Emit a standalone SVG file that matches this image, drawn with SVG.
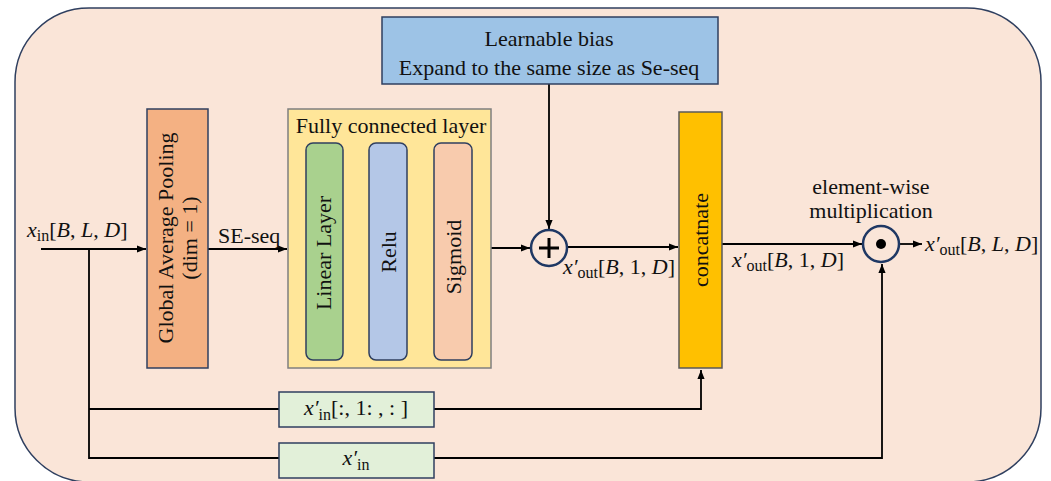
<svg xmlns="http://www.w3.org/2000/svg" width="1051" height="481" viewBox="0 0 1051 481">
<defs>
<marker id="ah" viewBox="0 0 10 10" refX="10" refY="5" markerWidth="9" markerHeight="9" markerUnits="userSpaceOnUse" orient="auto">
<path d="M0,1 L10,5 L0,9 z" fill="#000"/>
</marker>
<style>
text{font-family:"Liberation Serif","DejaVu Serif",serif;fill:#111;}
.t{font-size:22px;}
.m{font-size:22px;}
.i{font-style:italic;}
.s{font-size:16px;}
.line{fill:none;stroke:#000;stroke-width:1.8;}
.arr{fill:none;stroke:#000;stroke-width:1.8;marker-end:url(#ah);}
.nv{stroke:#2F3F5F;stroke-width:1.5;}
</style>
</defs>
<rect x="15" y="8" width="1026" height="474" rx="74" fill="#FAE5D8" stroke="#2F3F5F" stroke-width="1.5"/>

<g id="connectors">
<path class="arr" d="M41,249 H146"/>
<path class="arr" d="M208,249 H287"/>
<path class="arr" d="M343,249 H368"/>
<path class="arr" d="M407,249 H433"/>
<path class="arr" d="M491,248 H530"/>
<path class="arr" d="M549,84 V229"/>
<path class="arr" d="M567,247 H678"/>
<path class="arr" d="M722,244 H862"/>
<path class="arr" d="M899,244 H922"/>
<path class="line" d="M89,249 V458 H279"/>
<path class="line" d="M89,409 H279"/>
<path class="arr" d="M434,409 H701 V370"/>
<path class="arr" d="M434,458 H882 V264"/>
</g>

<g id="bias">
<rect x="382" y="17" width="336" height="67" fill="#9DC3E6" class="nv"/>
<text class="t" x="549" y="46" text-anchor="middle">Learnable bias</text>
<text class="t" x="549" y="75" text-anchor="middle">Expand to the same size as Se-seq</text>
</g>

<g id="gap">
<rect x="147" y="109" width="61" height="259" fill="#F4B183" class="nv"/>
<text class="t" transform="translate(173,238) rotate(-90)" text-anchor="middle">Global Average Pooling</text>
<text class="t" transform="translate(197,238) rotate(-90)" text-anchor="middle">(dim = 1)</text>
</g>

<g id="fc">
<rect x="288" y="109" width="203" height="259" fill="#FFE699" stroke="#7F7F7F" stroke-width="1.5"/>
<text class="t" x="391" y="133" text-anchor="middle">Fully connected layer</text>
</g>
<g id="linear">
<rect x="306" y="143" width="37" height="217" rx="7" fill="#A9D18E" class="nv"/>
<text class="t" transform="translate(331,253) rotate(-90)" text-anchor="middle">Linear Layer</text>
</g>
<g id="relu">
<rect x="369" y="143" width="38" height="217" rx="7" fill="#B4C7E7" class="nv"/>
<text class="t" transform="translate(396,252) rotate(-90)" text-anchor="middle">Relu</text>
</g>
<g id="sigmoid">
<rect x="434" y="143" width="38" height="217" rx="7" fill="#F8CBAD" class="nv"/>
<text class="t" transform="translate(461,257) rotate(-90)" text-anchor="middle">Sigmoid</text>
</g>

<g id="add">
<circle cx="549" cy="248" r="18" fill="#FAE5D8" stroke="#1F3864" stroke-width="2.5"/>
<path d="M539,248 H559 M549,238 V258" stroke="#000" stroke-width="3"/>
</g>

<g id="concat">
<rect x="679" y="112" width="43" height="256" fill="#FFC000" stroke="#595959" stroke-width="1.5"/>
<text class="t" transform="translate(708,240) rotate(-90)" text-anchor="middle">concatnate</text>
</g>

<g id="mul">
<circle cx="881" cy="244" r="18" fill="#FAE5D8" stroke="#1F3864" stroke-width="2.5"/>
<circle cx="881" cy="244" r="5" fill="#000"/>
<text class="t" x="871" y="194" text-anchor="middle">element-wise</text>
<text class="t" x="871" y="218" text-anchor="middle">multiplication</text>
</g>

<g id="xin1">
<rect x="279" y="392" width="155" height="35" fill="#E2F0D9" class="nv"/>
<text class="m" x="356" y="415" text-anchor="middle"><tspan class="i">x′</tspan><tspan class="s" dy="5">in</tspan><tspan dy="-5">[:, 1: , : ]</tspan></text>
</g>
<g id="xin2">
<rect x="279" y="443" width="155" height="35" fill="#E2F0D9" class="nv"/>
<text class="m" x="356" y="465" text-anchor="middle"><tspan class="i">x′</tspan><tspan class="s" dy="5">in</tspan></text>
</g>

<g id="labels">
<text class="m" x="27" y="237"><tspan class="i">x</tspan><tspan class="s" dy="4">in</tspan><tspan dy="-4">[</tspan><tspan class="i">B</tspan>, <tspan class="i">L</tspan>, <tspan class="i">D</tspan>]</text>
<text class="t" x="218" y="243">SE-seq</text>
<text class="m" x="563" y="274"><tspan class="i">x′</tspan><tspan class="s" dy="4">out</tspan><tspan dy="-4">[</tspan><tspan class="i">B</tspan>, 1, <tspan class="i">D</tspan>]</text>
<text class="m" x="732" y="267"><tspan class="i">x′</tspan><tspan class="s" dy="4">out</tspan><tspan dy="-4">[</tspan><tspan class="i">B</tspan>, 1, <tspan class="i">D</tspan>]</text>
<text class="m" x="925" y="251"><tspan class="i">x′</tspan><tspan class="s" dy="4">out</tspan><tspan dy="-4">[</tspan><tspan class="i">B</tspan>, <tspan class="i">L</tspan>, <tspan class="i">D</tspan>]</text>
</g>
</svg>
